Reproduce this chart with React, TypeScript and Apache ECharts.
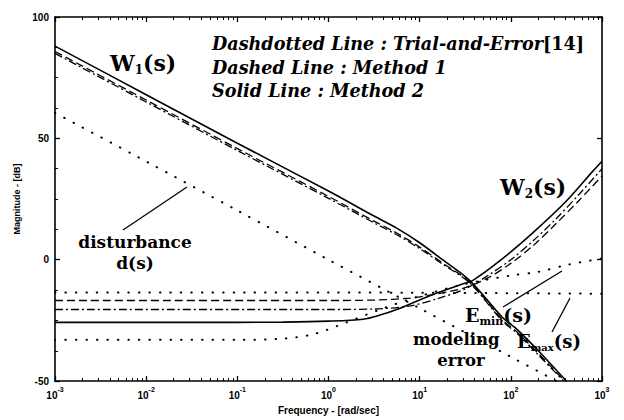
import React, { useEffect, useRef } from "react";
import * as echarts from "echarts";

// ---- data: [frequency (rad/sec), magnitude (dB)] ----
const w1Solid: [number, number][] = [
  [0.001, 88], [0.01, 68], [0.1, 48], [1, 28.3], [3.16, 18], [5.6, 13], [10, 7],
  [17.8, 0], [35.5, -8.6], [81, -23.8], [117, -28.7], [200, -37.5], [407, -50],
];
const w1Dashed: [number, number][] = [
  [0.001, 85.8], [0.01, 65.8], [0.1, 45.8], [1, 26.1], [3.16, 15.9], [5.6, 11], [10, 5.2],
  [17.8, -1.3], [35.5, -9.3], [81, -24.8], [117, -29.8], [200, -38.6], [390, -50],
];
const w1Dashdot: [number, number][] = [
  [0.001, 85], [0.01, 65], [0.1, 45], [1, 25.3], [3.16, 15.2], [5.6, 10.3], [10, 4.6],
  [17.8, -1.8], [35.5, -9.6], [81, -25.3], [117, -30.3], [200, -39.2], [380, -50],
];
const w2Solid: [number, number][] = [
  [0.001, -25.8], [0.1, -25.8], [0.316, -25.7], [1, -25.3], [2.4, -24.5], [3.6, -22.9], [5.6, -20.5],
  [12.9, -14.8], [29.5, -10], [38, -8.6], [76, -0.4], [174, 11.1], [407, 24.2], [794, 36.5], [1000, 40.6],
];
const w2Dashed: [number, number][] = [
  [0.001, -16.8], [1, -16.8], [3.16, -16.6], [7.9, -15.8], [15.8, -14], [31.6, -11.5],
  [56, -7.5], [100, -1.5], [178, 6], [316, 15], [562, 24.5], [1000, 34.5],
];
const w2Dashdot: [number, number][] = [
  [0.001, -20.5], [1, -20.5], [3.16, -20.3], [7.9, -19], [15.8, -16], [31.6, -12],
  [56, -6.5], [100, 0], [178, 8], [316, 17], [562, 27], [1000, 37.5],
];
const disturbance: [number, number][] = [
  [0.001, 60.5], [0.01, 40.5], [0.1, 20.3], [1, 0], [10, -20], [100, -40], [316, -50],
];
const eMin: [number, number][] = [
  [0.001, -33], [0.1, -33], [0.316, -32.5], [0.68, -30.7], [1.58, -25.8], [4, -20],
  [10, -15], [31.6, -10], [100, -6.5], [200, -5], [427, -2], [1000, 0.5],
];
const eMax: [number, number][] = [
  [0.001, -13.5], [1, -13.5], [1000, -14],
];

const yTicks = [-50, 0, 50, 100];
const xMin = 0.001;
const xMax = 1000;

const SANS = "'Liberation Sans', Arial, sans-serif";
const SERIF = "'DejaVu Serif', serif";

export default function App() {
  const ref = useRef<HTMLDivElement>(null);

  useEffect(() => {
    if (!ref.current) return;
    const chart = echarts.init(ref.current, undefined, { renderer: "svg" });

    const solid = { type: "solid" as const, width: 1.6, color: "#000" };
    const dashed = { type: [8, 4] as any, width: 1.3, color: "#000" };
    const dashdot = { type: [8, 3, 2, 3] as any, width: 1.3, color: "#000" };
    const dotted = { type: [0.5, 10] as any, width: 2, color: "#000", cap: "round" as const };

    const mk = (name: string, data: [number, number][], ls: any) => ({
      name,
      type: "line",
      data,
      showSymbol: false,
      symbol: "none",
      smooth: 0.3,
      lineStyle: ls,
      xAxisIndex: 0,
      yAxisIndex: 0,
      clip: true,
    });

    const tickLabel = {
      color: "#000",
      fontFamily: SANS,
      fontWeight: "bold" as const,
      fontSize: 10,
    };

    const axisLineStyle = { onZero: false, lineStyle: { color: "#000", width: 1.6 } };

    const textRich = (size: number, subSize: number) => ({
      a: { fontFamily: SERIF, fontWeight: "bold", fontSize: size, lineHeight: size + 4, fill: "#000" },
      s: { fontFamily: SERIF, fontWeight: "bold", fontSize: subSize, lineHeight: subSize, verticalAlign: "bottom", fill: "#000" },
    });

    const option: any = {
      animation: false,
      backgroundColor: "#fff",
      grid: { left: 55, right: 22, top: 17, bottom: 36, containLabel: false },
      xAxis: [
        {
          type: "log",
          logBase: 10,
          min: xMin,
          max: xMax,
          interval: 1,
          position: "bottom",
          name: "Frequency - [rad/sec]",
          nameLocation: "middle",
          nameGap: 22,
          nameTextStyle: { ...tickLabel, fontSize: 10 },
          axisLine: axisLineStyle,
          axisTick: { inside: true, length: 5, lineStyle: { color: "#000", width: 1.3 } },
          minorTick: { show: true, splitNumber: 9, length: 3, lineStyle: { color: "#000" } },
          splitLine: { show: false },
          axisLabel: {
            ...tickLabel,
            margin: 5,
            formatter: (v: number) => `{b|10}{s|${Math.round(Math.log10(v))}}`,
            rich: {
              b: { ...tickLabel, fontSize: 10, lineHeight: 14, verticalAlign: "bottom" },
              s: { ...tickLabel, fontSize: 7, lineHeight: 8, verticalAlign: "top" },
            },
          },
        },
        {
          type: "log",
          logBase: 10,
          min: xMin,
          max: xMax,
          interval: 1,
          position: "top",
          axisLine: axisLineStyle,
          axisTick: { inside: true, length: 5, lineStyle: { color: "#000", width: 1.3 } },
          minorTick: { show: true, splitNumber: 9, length: 3, lineStyle: { color: "#000" } },
          splitLine: { show: false },
          axisLabel: { show: false },
        },
      ],
      yAxis: [
        {
          type: "value",
          min: yTicks[0],
          max: yTicks[yTicks.length - 1],
          interval: 50,
          position: "left",
          name: "Magnitude - [dB]",
          nameLocation: "middle",
          nameGap: 34,
          nameRotate: 90,
          nameTextStyle: { ...tickLabel, fontSize: 9 },
          axisLine: { show: true, ...axisLineStyle },
          axisTick: { show: true, inside: true, length: 5, lineStyle: { color: "#000", width: 1.3 } },
          minorTick: { show: true, splitNumber: 4, length: 3, lineStyle: { color: "#000" } },
          splitLine: { show: false },
          axisLabel: { ...tickLabel, margin: 6 },
        },
        {
          type: "value",
          min: yTicks[0],
          max: yTicks[yTicks.length - 1],
          interval: 50,
          position: "right",
          axisLine: { show: true, ...axisLineStyle },
          axisTick: { show: true, inside: true, length: 5, lineStyle: { color: "#000", width: 1.3 } },
          splitLine: { show: false },
          axisLabel: { show: false },
        },
      ],
      series: [
        mk("W1 trial", w1Dashdot, dashdot),
        mk("W1 method1", w1Dashed, dashed),
        mk("W1 method2", w1Solid, solid),
        mk("W2 trial", w2Dashdot, dashdot),
        mk("W2 method1", w2Dashed, dashed),
        mk("W2 method2", w2Solid, solid),
        mk("d(s)", disturbance, dotted),
        mk("Emin(s)", eMin, dotted),
        mk("Emax(s)", eMax, dotted),
      ],
      graphic: [
        // legend text
        {
          type: "text",
          x: 212,
          y: 43,
          style: {
            text: "{i|Dashdotted Line : Trial-and-Error}{n|[14]}",
            verticalAlign: "middle",
            rich: {
              i: { fontFamily: SERIF, fontWeight: "bold", fontStyle: "italic", fontSize: 17.6, fill: "#000" },
              n: { fontFamily: SERIF, fontWeight: "bold", fontSize: 17.6, fill: "#000" },
            },
          },
        },
        {
          type: "text",
          x: 212,
          y: 67,
          style: {
            text: "Dashed Line : Method 1",
            verticalAlign: "middle",
            font: `italic bold 17.6px ${SERIF}`,
            fill: "#000",
          },
        },
        {
          type: "text",
          x: 212,
          y: 90,
          style: {
            text: "Solid Line : Method 2",
            verticalAlign: "middle",
            font: `italic bold 17.6px ${SERIF}`,
            fill: "#000",
          },
        },
        // W1, W2 labels
        {
          type: "text",
          x: 110,
          y: 63,
          style: { text: "{a|W}{s|1}{a|(s)}", verticalAlign: "middle", rich: textRich(22, 12) },
        },
        {
          type: "text",
          x: 500,
          y: 187,
          style: { text: "{a|W}{s|2}{a|(s)}", verticalAlign: "middle", rich: textRich(22, 12) },
        },
        // disturbance
        {
          type: "text",
          x: 135,
          y: 242,
          style: { text: "disturbance", align: "center", verticalAlign: "middle", font: `bold 17px ${SERIF}`, fill: "#000" },
        },
        {
          type: "text",
          x: 135,
          y: 263,
          style: { text: "d(s)", align: "center", verticalAlign: "middle", font: `bold 17px ${SERIF}`, fill: "#000" },
        },
        { type: "line", shape: { x1: 123, y1: 230, x2: 187, y2: 187 }, style: { stroke: "#000", lineWidth: 1.3 } },
        // E_min
        {
          type: "text",
          x: 465,
          y: 315,
          style: { text: "{a|E}{s|min}{a|(s)}", verticalAlign: "middle", rich: textRich(19, 11) },
        },
        { type: "line", shape: { x1: 503, y1: 307, x2: 562, y2: 271 }, style: { stroke: "#000", lineWidth: 1.3 } },
        // modeling error
        {
          type: "text",
          x: 413,
          y: 339,
          style: { text: "modeling", verticalAlign: "middle", font: `bold 16.5px ${SERIF}`, fill: "#000" },
        },
        {
          type: "text",
          x: 461,
          y: 360,
          style: { text: "error", align: "center", verticalAlign: "middle", font: `bold 16.5px ${SERIF}`, fill: "#000" },
        },
        // E_max
        {
          type: "text",
          x: 517,
          y: 341,
          style: { text: "{a|E}{s|max}{a|(s)}", verticalAlign: "middle", rich: textRich(18, 10) },
        },
        { type: "line", shape: { x1: 552, y1: 332, x2: 570, y2: 298 }, style: { stroke: "#000", lineWidth: 1.3 } },
      ],
    };

    chart.setOption(option);
    return () => chart.dispose();
  }, []);

  return <div ref={ref} style={{ width: 624, height: 420, position: "absolute", left: 0, top: 0 }} />;
}
